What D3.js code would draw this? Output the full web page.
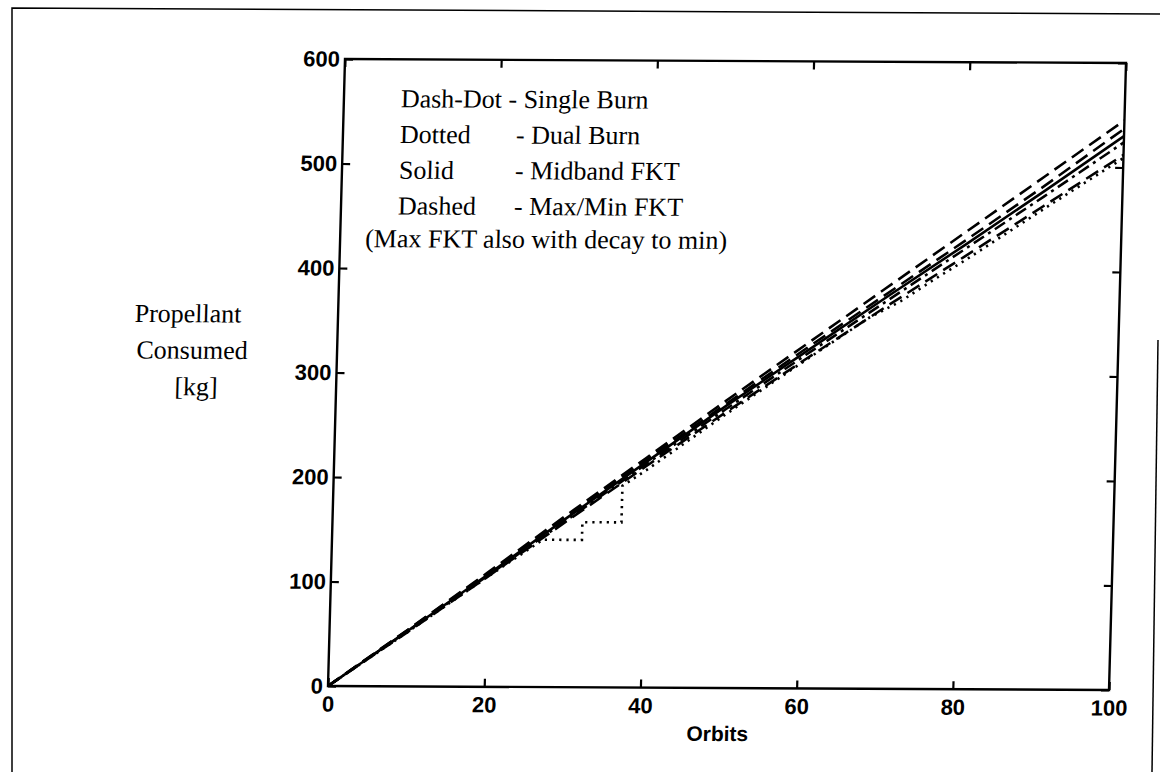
<!DOCTYPE html>
<html>
<head>
<meta charset="utf-8">
<script src="https://cdn.jsdelivr.net/npm/d3@7"></script>
<style>
  body { margin: 0; background: #fff; }
  svg { display: block; }
  .tick text { font-family: "Liberation Sans", Arial, sans-serif; font-weight: bold; font-size: 22px; fill: #000; }
  .serif { font-family: "Liberation Serif", "Times New Roman", serif; font-size: 26px; fill: #000; }
</style>
</head>
<body>
<svg id="chart"></svg>
<script>
// data (propellant in kg vs orbit number)
const orbits = [0, 10, 20, 30, 40, 50, 60, 70, 80, 90, 100];
const midbandFKT = [0, 53, 107, 162, 216, 270, 322, 374, 425, 477, 530];
const singleBurn = [0, 53, 106, 160, 214, 267, 319, 370, 421, 472, 524];
const maxFKT = [0, 54, 109, 165, 220, 275, 329, 383, 437, 491, 545];
const minFKT = [0, 52, 105, 159, 212, 264, 315, 365, 414, 463, 512];
const maxDecayFKT = [0, 54, 108, 163, 218, 272, 325, 377, 429, 482, 537];
// dual burn has a few flat stretches, so it gets its own orbit list
const dualOrbits = [0, 10, 20, 27, 32, 32, 37, 37, 40, 50, 60, 68, 72, 76, 80, 90, 100];
const dualBurn = [0, 52, 105, 141, 141, 158, 158, 193, 208, 262, 314, 355, 371, 391, 410, 460, 509];

const xTicks = [0, 20, 40, 60, 80, 100];
const yTicks = [0, 100, 200, 300, 400, 500, 600];

const legendRows = [
  ["Dash-Dot - Single Burn", ""],
  ["Dotted", "- Dual Burn"],
  ["Solid", "- Midband FKT"],
  ["Dashed", "- Max/Min FKT"]
];
const legendNote = "(Max FKT also with decay to min)";
const yLabel = ["Propellant", "Consumed", "[kg]"];

// constants
const width = 1160;
const height = 772;
const plotW = 781;
const plotH = 627;

const svg = d3.select('#chart')
  .attr('width', width)
  .attr('height', height);

// page border from the scan
svg.append('path')
  .attr('d', 'M12,772 L12,8 L1160,14')
  .attr('fill', 'none')
  .attr('stroke', '#000')
  .attr('stroke-width', 1.5);
svg.append('path')
  .attr('d', 'M1158,340 L1152,772')
  .attr('fill', 'none')
  .attr('stroke', '#000')
  .attr('stroke-width', 1.5);

// the scanned figure is slightly skewed, so the whole plot gets the same skew
const chart = svg.append('g')
  .attr('transform', 'matrix(1,0.0051,-0.0271,1,345,59)');

const x = d3.scaleLinear().domain([0, 100]).range([0, plotW]);
const y = d3.scaleLinear().domain([0, 600]).range([plotH, 0]);

// axes, ticks point inward
chart.append('g')
  .call(d3.axisLeft(y).tickValues(yTicks).tickSize(-8).tickPadding(5))
  .call(g => g.select('.domain').remove());
chart.append('g')
  .attr('transform', 'translate(' + plotW + ',0)')
  .call(d3.axisRight(y).tickValues(yTicks).tickSize(-8).tickFormat(''))
  .call(g => g.select('.domain').remove());
chart.append('g')
  .attr('transform', 'translate(0,' + plotH + ')')
  .call(d3.axisBottom(x).tickValues(xTicks).tickSize(-8).tickPadding(10))
  .call(g => g.select('.domain').remove());
chart.append('g')
  .call(d3.axisTop(x).tickValues(xTicks).tickSize(-8).tickFormat(''))
  .call(g => g.select('.domain').remove());

chart.selectAll('.tick line')
  .attr('stroke', '#000')
  .attr('stroke-width', 2.2);

chart.append('rect')
  .attr('width', plotW)
  .attr('height', plotH)
  .attr('fill', 'none')
  .attr('stroke', '#000')
  .attr('stroke-width', 2.4);

// data lines
const series = [
  { xs: orbits, ys: maxFKT, dash: '14,7' },
  { xs: orbits, ys: maxDecayFKT, dash: '14,7' },
  { xs: orbits, ys: minFKT, dash: '14,7' },
  { xs: orbits, ys: singleBurn, dash: '12,5,3,5' },
  { xs: dualOrbits, ys: dualBurn, dash: '2.2,5' },
  { xs: orbits, ys: midbandFKT, dash: null }
];

const line = d3.line()
  .x(d => x(d[0]))
  .y(d => y(d[1]));

chart.selectAll('.series')
  .data(series)
  .enter().append('path')
  .attr('class', 'series')
  .attr('d', s => line(s.xs.map((o, i) => [o, s.ys[i]])))
  .attr('fill', 'none')
  .attr('stroke', '#000')
  .attr('stroke-width', 2.6)
  .attr('stroke-dasharray', s => s.dash);

// legend text inside the plot
legendRows.forEach((r, i) => {
  chart.append('text').attr('class', 'serif')
    .attr('x', 57).attr('y', 48 + i * 35.7).text(r[0]);
  if (r[1]) {
    chart.append('text').attr('class', 'serif')
      .attr('x', 173).attr('y', 48 + i * 35.7).text(r[1]);
  }
});
chart.append('text').attr('class', 'serif')
  .attr('x', 25).attr('y', 188).text(legendNote);

// axis titles
chart.selectAll('.ylab')
  .data(yLabel)
  .enter().append('text')
  .attr('class', 'serif')
  .attr('text-anchor', 'middle')
  .attr('x', (d, i) => -150 + i * 5)
  .attr('y', (d, i) => 264 + i * 36.5)
  .text(d => d);

chart.append('text')
  .attr('x', plotW / 2)
  .attr('y', plotH + 53)
  .attr('text-anchor', 'middle')
  .style('font-family', '"Liberation Sans", Arial, sans-serif')
  .style('font-weight', 'bold')
  .style('font-size', '21px')
  .text('Orbits');
</script>
</body>
</html>
